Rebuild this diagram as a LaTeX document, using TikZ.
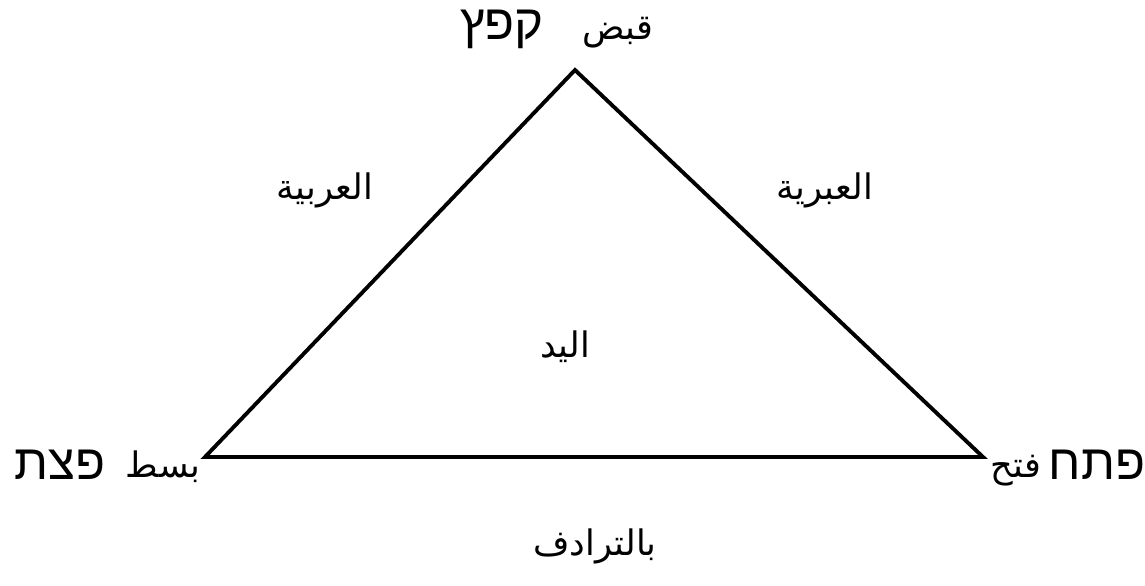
\documentclass[tikz,border=0pt]{standalone}
\usepackage{fontspec}
\usetikzlibrary{positioning}
\TeXXeTstate=1
\newfontfamily\arabicfont[Script=Arabic]{DejaVu Sans}
\newfontfamily\hebrewfont[Script=Hebrew]{Liberation Sans}
\tikzset{
  ar/.style={font=\arabicfont\fontsize{10}{12}\selectfont, inner sep=1pt, anchor=base},
  he/.style={font=\hebrewfont\fontsize{14}{17}\selectfont, inner sep=1pt, anchor=base},
}

\begin{document}
\begin{tikzpicture}
  \useasboundingbox (0,0) rectangle (11.45,5.85);
  % corners of the triangle
  \coordinate (apex) at (5.75,5.15);
  \coordinate (lft) at (2.05,1.28);
  \coordinate (rgt) at (9.83,1.28);
  \draw[line width=1.1pt, line join=miter] (apex) -- (lft) -- (rgt) -- cycle;
  % vertex labels
  \node[he] (tophe) at (5.02,5.46) {\beginR קפץ\endR};
  \node[ar] (topar) at (6.18,5.46) {\beginR قبض\endR};
  \node[he] (lfthe) at (0.60,1.06) {\beginR פצת\endR};
  \node[ar] (lftar) at (1.63,1.08) {\beginR بسط\endR};
  \node[ar] (rgtar) at (10.16,1.08) {\beginR فتح\endR};
  \node[he] (rgthe) at (10.97,1.06) {\beginR פתח\endR};
  % sides and middle
  \node[ar] (arab) at (3.25,3.86) {\beginR العربية\endR};
  \node[ar] (hebr) at (8.25,3.86) {\beginR العبرية\endR};
  \node[ar] (hand) at (5.65,2.28) {\beginR اليد\endR};
  \node[ar] (syn) at (5.95,0.30) {\beginR بالترادف\endR};
\end{tikzpicture}
\end{document}
